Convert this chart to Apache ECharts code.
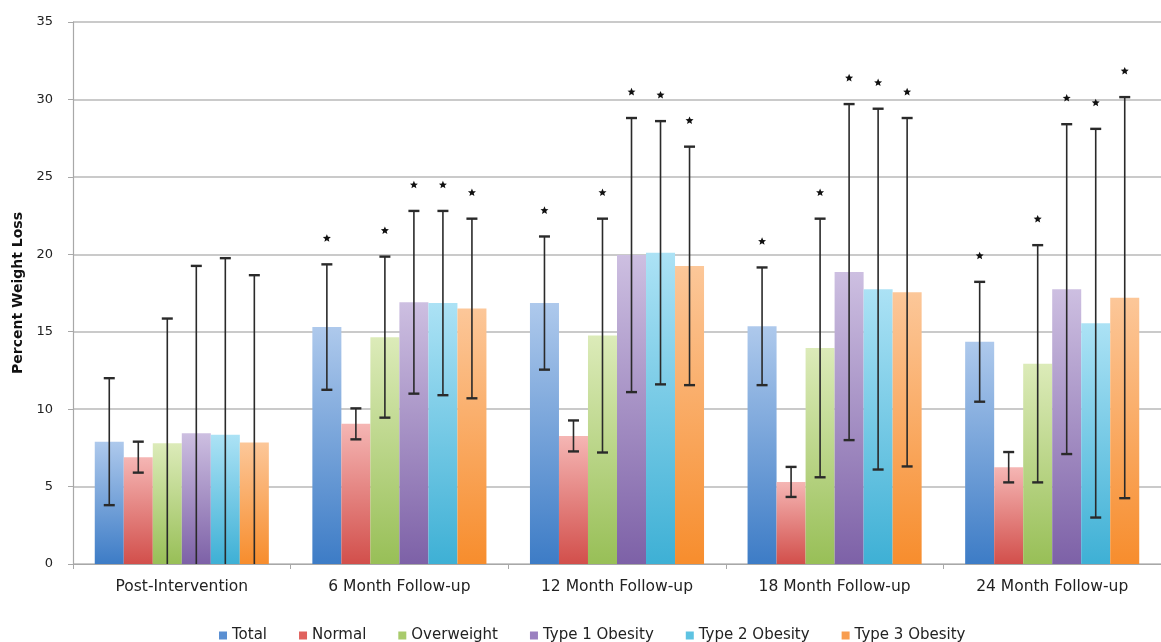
<!DOCTYPE html>
<html><head><meta charset="utf-8">
<script src="https://cdn.jsdelivr.net/npm/echarts@6/dist/echarts.min.js"></script>
<style>html,body{margin:0;padding:0;background:#fff}#c{width:1161px;height:642px}</style>
</head><body><div id="c"></div>
<script>
const categories = ['Post-Intervention','6 Month Follow-up','12 Month Follow-up','18 Month Follow-up','24 Month Follow-up'];
const seriesNames = ['Total','Normal','Overweight','Type 1 Obesity','Type 2 Obesity','Type 3 Obesity'];
const total      = [7.9, 15.3, 16.85, 15.35, 14.35];
const totalErr   = [4.1, 4.05, 4.3, 3.8, 3.87];
const normal     = [6.9, 9.05, 8.27, 5.3, 6.25];
const normalErr  = [1.0, 1.0, 1.0, 0.97, 0.98];
const overweight = [7.8, 14.65, 14.75, 13.95, 12.93];
const overweightErr = [8.05, 5.2, 7.55, 8.35, 7.66];
const type1      = [8.45, 16.9, 19.95, 18.85, 17.75];
const type1Err   = [10.8, 5.9, 8.85, 10.85, 10.65];
const type2      = [8.35, 16.85, 20.1, 17.75, 15.55];
const type2Err   = [11.4, 5.95, 8.5, 11.65, 12.55];
const type3      = [7.85, 16.5, 19.25, 17.55, 17.2];
const type3Err   = [10.8, 5.8, 7.7, 11.25, 12.95];
// significance markers (1 = asterisk) per series, per category
const totalSig      = [0,1,1,1,1];
const normalSig     = [0,0,0,0,0];
const overweightSig = [0,1,1,1,1];
const type1Sig      = [0,1,1,1,1];
const type2Sig      = [0,1,1,1,1];
const type3Sig      = [0,1,1,1,1];
const yTicks = [0,5,10,15,20,25,30,35];

const means = [total, normal, overweight, type1, type2, type3];
const errs = [totalErr, normalErr, overweightErr, type1Err, type2Err, type3Err];
const sigs = [totalSig, normalSig, overweightSig, type1Sig, type2Sig, type3Sig];
const topColors = ['#aec9ec','#f5b6b4','#dcebb9','#cdbfe1','#ace2f5','#fcc799'];
const botColors = ['#3d7cc6','#d24f4b','#98bf57','#7d61a7','#3eb0d5','#f78d2d'];
const legendColors = ['#5a8fd2','#e0615d','#a9cb6c','#9a80c0','#5ec3e2','#f89d4f'];
const FONT = 'DejaVu Sans';

const barSeries = seriesNames.map((n, i) => ({
  name: n, type: 'bar', data: means[i], barGap: '0%', barCategoryGap: '20%',
  itemStyle: { color: new echarts.graphic.LinearGradient(0,0,0,1,[
    {offset:0,color:topColors[i]},{offset:1,color:botColors[i]}]) },
  z: 2
}));

const errData = [];
for (let s = 0; s < 6; s++) for (let c = 0; c < categories.length; c++)
  errData.push([c, s, means[s][c], errs[s][c], sigs[s][c]]);

function starPoints(cx, cy, ro, ri) {
  const pts = [];
  for (let k = 0; k < 10; k++) {
    const r = k % 2 ? ri : ro;
    const a = -Math.PI / 2 + k * Math.PI / 5;
    pts.push([cx + r * Math.cos(a), cy + r * Math.sin(a)]);
  }
  return pts;
}

const NS = 6;
const errSeries = {
  type: 'custom', z: 5, silent: true, clip: false,
  data: errData, encode: { x: 0, y: 2 },
  renderItem: function (params, api) {
    const cat = api.value(0), s = api.value(1), m = api.value(2), e = api.value(3), sig = api.value(4);
    const base = api.coord([cat, 0]);
    const bw = api.size([1, 0])[0];
    const x = base[0] - 0.4 * bw + (s + 0.5) * bw * 0.8 / NS;
    const yTop = api.coord([cat, m + e])[1];
    const low = m - e;
    const yBot = api.coord([cat, Math.max(0, low)])[1];
    const cw = 5.5;
    const capStyle = { stroke: '#2a2a2a', lineWidth: 2.4 };
    const ch = [
      { type: 'line', shape: { x1: x, y1: yTop, x2: x, y2: yBot }, style: { stroke: '#2a2a2a', lineWidth: 1.6 } },
      { type: 'line', shape: { x1: x - cw, y1: yTop, x2: x + cw, y2: yTop }, style: capStyle }
    ];
    if (low > 0) ch.push({ type: 'line', shape: { x1: x - cw, y1: yBot, x2: x + cw, y2: yBot }, style: capStyle });
    if (sig) ch.push({ type: 'polygon', shape: { points: starPoints(x, yTop - 26, 4.2, 1.9) }, style: { fill: '#111' } });
    return { type: 'group', children: ch };
  }
};

const chart = echarts.init(document.getElementById('c'), null, { renderer: 'canvas' });
chart.setOption({
  animation: false,
  backgroundColor: '#fff',
  grid: { left: 73, right: -13, top: 22, bottom: 78 },
  legend: {
    data: seriesNames.map((n, i) => ({ name: n, itemStyle: { color: legendColors[i] } })),
    top: 623, left: 214, itemWidth: 8, itemHeight: 8, itemGap: 32, icon: 'rect',
    textStyle: { fontFamily: FONT, fontSize: 15, color: '#222' }
  },
  xAxis: {
    type: 'category', data: categories,
    axisLine: { lineStyle: { color: '#a8a8a8', width: 1.2 } },
    axisTick: { show: true, length: 5, lineStyle: { color: '#a8a8a8' } },
    axisLabel: { fontFamily: FONT, fontSize: 15.5, color: '#222', margin: 15 }
  },
  yAxis: {
    type: 'value', min: 0, max: 35, interval: 5,
    name: 'Percent Weight Loss', nameLocation: 'middle', nameGap: 39, nameRotate: 90,
    nameTextStyle: { fontFamily: FONT, fontSize: 14, fontWeight: 'bold', color: '#111' },
    axisLine: { show: true, lineStyle: { color: '#a8a8a8', width: 1.2 } },
    axisTick: { show: true, length: 5, lineStyle: { color: '#a8a8a8' } },
    axisLabel: { fontFamily: FONT, fontSize: 13, color: '#222', margin: 20,
      formatter: v => yTicks.indexOf(v) >= 0 ? String(v) : '' },
    splitLine: { lineStyle: { color: '#b9b9b9', width: 1.5 } }
  },
  series: barSeries.concat([errSeries])
});
</script></body></html>
